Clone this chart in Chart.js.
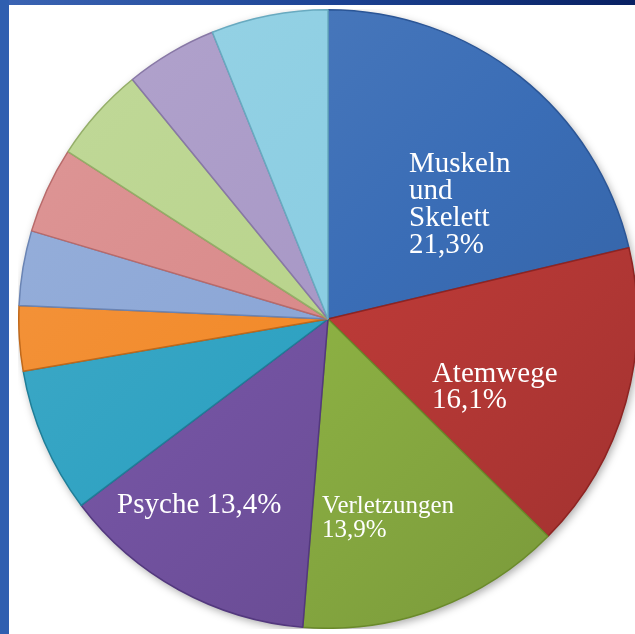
<!DOCTYPE html>
<html>
<head>
<meta charset="utf-8">
<script src="https://cdn.jsdelivr.net/npm/chart.js@4/dist/chart.umd.min.js"></script>
<style>
  html, body { margin: 0; padding: 0; }
  body { width: 635px; height: 634px; overflow: hidden; position: relative; background: #fff; }
  #top { position: absolute; left: 0; top: 0; width: 635px; height: 5px;
         background: linear-gradient(to right, #3b64b3, #1e4596 50%, #082062); }
  #left { position: absolute; left: 0; top: 0; width: 9px; height: 634px; background: #2f5fb0; }
  #wrap { position: absolute; left: 18px; top: 9px; width: 620px; height: 620px; }
</style>
</head>
<body>
<div id="top"></div>
<div id="left"></div>
<div id="wrap"><canvas id="canvas"></canvas></div>
<script>
// shares in percent, clockwise from 12 o'clock
var categories = ['Muskeln und Skelett', 'Atemwege', 'Verletzungen', 'Psyche',
  'Sonstige 1', 'Sonstige 2', 'Sonstige 3', 'Sonstige 4', 'Sonstige 5', 'Sonstige 6', 'Sonstige 7'];
var shares = [21.3, 16.1, 13.9, 13.4, 7.6, 3.4, 3.9, 4.5, 5.0, 4.8, 6.1];
var labelLines = [
  ['Muskeln', 'und', 'Skelett', '21,3%'],
  ['Atemwege', '16,1%'],
  ['Verletzungen', '13,9%'],
  ['Psyche 13,4%']
];

var colors = ['#3a6db6', '#bb3a37', '#8cb043', '#7252a0', '#2fa2c2', '#f28a2a',
  '#8ba6d6', '#d98a8a', '#b9d48c', '#a898c6', '#8acde2'];
var edges = ['#2a5596', '#8e2422', '#6a8a2a', '#53387e', '#1f7e98', '#c0681a',
  '#6a84b4', '#b86a6a', '#94ae68', '#8878a6', '#68aac0'];

// label anchor (left / first baseline) relative to pie center, in radii
var labelAnchor = [[0.262, -0.474], [0.336, 0.203], [-0.019, 0.626], [-0.682, 0.626]];
var labelSize = [29, 29, 25, 29];
var labelLead = [27, 26, 24, 27];

function shade(hex, amt) {
  var n = parseInt(hex.slice(1), 16);
  var r = (n >> 16) & 255, g = (n >> 8) & 255, b = n & 255;
  function f(c) { return Math.max(0, Math.min(255, Math.round(amt > 0 ? c + (255 - c) * amt : c * (1 + amt)))); }
  return 'rgb(' + f(r) + ',' + f(g) + ',' + f(b) + ')';
}

var labelPlugin = {
  id: 'sliceLabels',
  beforeDatasetsDraw: function (chart) {
    var ctx = chart.ctx;
    ctx.save();
    ctx.shadowColor = 'rgba(0,0,0,0.35)';
    ctx.shadowBlur = 8;
    ctx.shadowOffsetX = 2;
    ctx.shadowOffsetY = 3;
    var a = chart.getDatasetMeta(0).data[0];
    ctx.beginPath();
    ctx.arc(a.x, a.y, a.outerRadius, 0, Math.PI * 2);
    ctx.fillStyle = '#fff';
    ctx.fill();
    ctx.restore();
  },
  afterDatasetsDraw: function (chart) {
    var ctx = chart.ctx;
    var arcs = chart.getDatasetMeta(0).data;
    var cx = arcs[0].x, cy = arcs[0].y, r = arcs[0].outerRadius;
    ctx.save();
    ctx.fillStyle = '#fff';
    ctx.textAlign = 'left';
    ctx.textBaseline = 'alphabetic';
    labelLines.forEach(function (lines, i) {
      ctx.font = labelSize[i] + 'px "Liberation Serif", "Times New Roman", serif';
      var x = cx + labelAnchor[i][0] * r;
      var y = cy + labelAnchor[i][1] * r;
      lines.forEach(function (t, j) {
        ctx.fillText(t, x, y + j * labelLead[i]);
      });
    });
    ctx.restore();
  }
};

const ctx = document.getElementById('canvas');
const myChart = new Chart(ctx, {
  type: 'pie',
  data: {
    labels: categories,
    datasets: [{
      data: shares,
      backgroundColor: function (c) {
        var area = c.chart.chartArea;
        if (!area) return colors[c.dataIndex];
        var g = c.chart.ctx.createLinearGradient(area.left, area.top, area.right, area.bottom);
        var col = colors[c.dataIndex];
        g.addColorStop(0, shade(col, 0.12));
        g.addColorStop(0.5, col);
        g.addColorStop(1, shade(col, -0.15));
        return g;
      },
      borderColor: edges,
      borderWidth: 1.5
    }]
  },
  options: {
    responsive: true,
    maintainAspectRatio: false,
    animation: false,
    layout: { padding: 0 },
    plugins: {
      legend: { display: false },
      tooltip: { enabled: false }
    }
  },
  plugins: [labelPlugin]
});
</script>
</body>
</html>
